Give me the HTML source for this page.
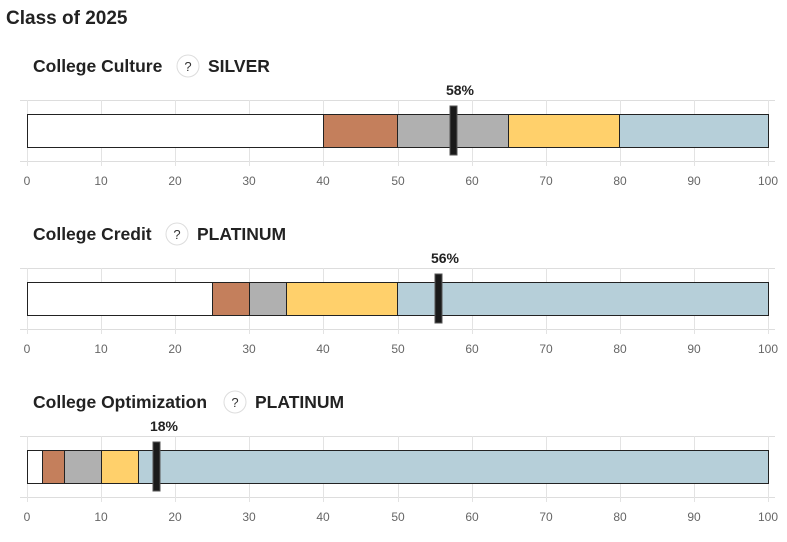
<!DOCTYPE html>
<html><head><meta charset="utf-8"><style>
body{margin:0;background:#fff;width:787px;height:537px;overflow:hidden;font-family:"Liberation Sans",sans-serif}
</style></head><body>
<svg width="787" height="537" xmlns="http://www.w3.org/2000/svg" font-family="Liberation Sans, sans-serif">
<text x="6" y="24" font-size="19" font-weight="bold" fill="#222">Class of 2025</text>
<g id="c1">
<text x="33" y="72" font-size="17.5" font-weight="bold" fill="#222">College Culture</text>
<circle cx="188" cy="66" r="11" fill="#fff" stroke="#ddd"/><text x="188" y="71" font-size="13" text-anchor="middle" fill="#333">?</text>
<text x="208" y="72" font-size="17.5" font-weight="bold" fill="#222">SILVER</text>
<g stroke="#ddd" stroke-width="1">
<line x1="20" x2="775" y1="100.5" y2="100.5"/><line x1="20" x2="775" y1="161.5" y2="161.5"/>
</g>
<g stroke="#e3e3e3">
<line x1="27.5" x2="27.5" y1="100" y2="166"/><line x1="101.5" x2="101.5" y1="100" y2="166"/><line x1="175.5" x2="175.5" y1="100" y2="166"/><line x1="249.5" x2="249.5" y1="100" y2="166"/><line x1="323.5" x2="323.5" y1="100" y2="166"/><line x1="398.5" x2="398.5" y1="100" y2="166"/><line x1="472.5" x2="472.5" y1="100" y2="166"/><line x1="546.5" x2="546.5" y1="100" y2="166"/><line x1="620.5" x2="620.5" y1="100" y2="166"/><line x1="694.5" x2="694.5" y1="100" y2="166"/><line x1="768.5" x2="768.5" y1="100" y2="166"/>
</g>
<g fill="#666" font-size="12" text-anchor="middle">
<text x="27" y="185">0</text><text x="101" y="185">10</text><text x="175" y="185">20</text><text x="249" y="185">30</text><text x="323" y="185">40</text><text x="398" y="185">50</text><text x="472" y="185">60</text><text x="546" y="185">70</text><text x="620" y="185">80</text><text x="694" y="185">90</text><text x="768" y="185">100</text>
</g>
</g>
<use href="#c1" y="168"/>
<use href="#c1" y="336"/>
<rect x="25" y="220" width="300" height="28" fill="#fff"/>
<text x="33" y="240" font-size="17.5" font-weight="bold" fill="#222">College Credit</text>
<circle cx="177" cy="234" r="11" fill="#fff" stroke="#ddd"/><text x="177" y="239" font-size="13" text-anchor="middle" fill="#333">?</text>
<text x="197" y="240" font-size="17.5" font-weight="bold" fill="#222">PLATINUM</text>
<rect x="25" y="388" width="350" height="28" fill="#fff"/>
<text x="33" y="408" font-size="17.5" font-weight="bold" fill="#222">College Optimization</text>
<circle cx="235" cy="402" r="11" fill="#fff" stroke="#ddd"/><text x="235" y="407" font-size="13" text-anchor="middle" fill="#333">?</text>
<text x="255" y="408" font-size="17.5" font-weight="bold" fill="#222">PLATINUM</text>
<g stroke="#222" stroke-width="1">
<rect x="27.5" y="114.5" width="296" height="33" fill="#fff"/>
<rect x="323.5" y="114.5" width="74" height="33" fill="#c47f5c"/>
<rect x="397.5" y="114.5" width="111" height="33" fill="#b0b0b0"/>
<rect x="508.5" y="114.5" width="111" height="33" fill="#ffd06b"/>
<rect x="619.5" y="114.5" width="149" height="33" fill="#b6cfd9"/>

<rect x="27.5" y="282.5" width="185" height="33" fill="#fff"/>
<rect x="212.5" y="282.5" width="37" height="33" fill="#c47f5c"/>
<rect x="249.5" y="282.5" width="37" height="33" fill="#b0b0b0"/>
<rect x="286.5" y="282.5" width="111" height="33" fill="#ffd06b"/>
<rect x="397.5" y="282.5" width="371" height="33" fill="#b6cfd9"/>

<rect x="27.5" y="450.5" width="15" height="33" fill="#fff"/>
<rect x="42.5" y="450.5" width="22" height="33" fill="#c47f5c"/>
<rect x="64.5" y="450.5" width="37" height="33" fill="#b0b0b0"/>
<rect x="101.5" y="450.5" width="37" height="33" fill="#ffd06b"/>
<rect x="138.5" y="450.5" width="630" height="33" fill="#b6cfd9"/>
</g>
<g fill="#1a1a1a" stroke="#555" stroke-width="1">
<rect x="450" y="106" width="7" height="49"/>
<rect x="435" y="274" width="7" height="49"/>
<rect x="153" y="442" width="7" height="49"/>
</g>
<g font-size="14" font-weight="bold" fill="#222" text-anchor="middle">
<text x="460" y="95">58%</text><text x="445" y="263">56%</text><text x="164" y="431">18%</text>
</g>
</svg>
</body></html>
